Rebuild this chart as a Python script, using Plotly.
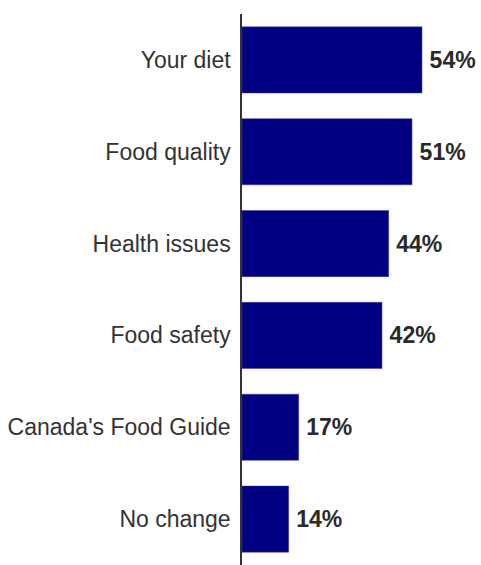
import plotly.graph_objects as go

categories = ["Your diet", "Food quality", "Health issues", "Food safety",
              "Canada's Food Guide", "No change"]
values = [54, 51, 44, 42, 17, 14]
value_labels = [f"{v}%" for v in values]

FONT = "Liberation Sans, Arial, sans-serif"

fig = go.Figure(go.Bar(
    x=values,
    y=categories,
    orientation="h",
    marker=dict(color="#000080", line=dict(color="#3a3aa0", width=0.5)),
    text=value_labels,
    texttemplate="\u2009%{text}",
    textposition="outside",
    constraintext="none",
    textfont=dict(family=FONT, size=23, color="#2a2a2a", weight="bold"),
    cliponaxis=False,
    width=0.72,
))

fig.update_layout(
    width=481, height=565,
    margin=dict(l=242, r=0, t=14, b=0),
    paper_bgcolor="white", plot_bgcolor="white",
    showlegend=False,
)
fig.update_xaxes(range=[0, 71.7], visible=False, fixedrange=True)
fig.update_yaxes(
    autorange="reversed",
    showline=True, linecolor="#333333", linewidth=1.5,
    showgrid=False, ticks="", ticklabelstandoff=5,
    tickfont=dict(family=FONT, size=23, color="#333333"),
)

fig.write_html("out.html")
